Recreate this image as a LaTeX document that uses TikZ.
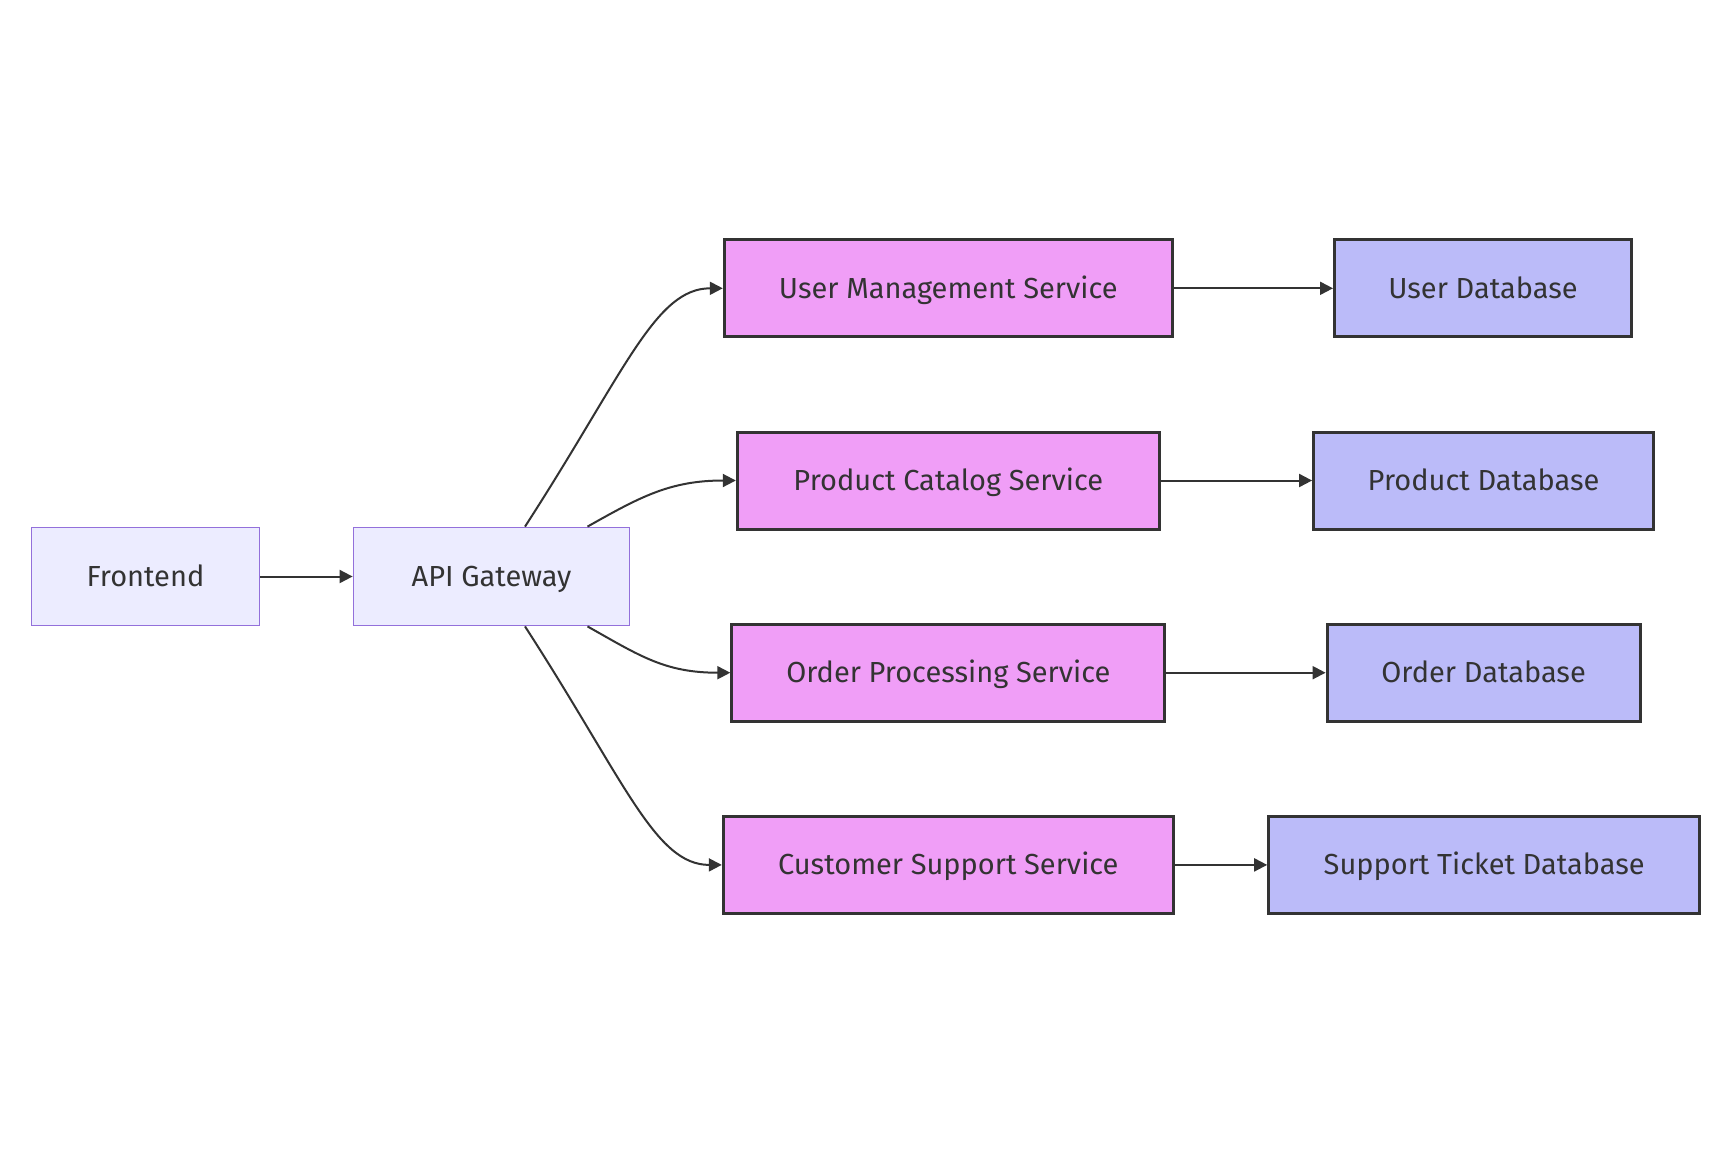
\documentclass[tikz,border=0pt]{standalone}
\usepackage{fontspec}
\setmainfont{Fira Sans}
\usetikzlibrary{arrows.meta}
\definecolor{txt}{HTML}{333333}
\definecolor{feFill}{HTML}{ECECFF}
\definecolor{feLine}{HTML}{9370DB}
\definecolor{svcFill}{HTML}{F09EF7}
\definecolor{dbFill}{HTML}{BBBBF9}
\tikzset{
  base/.style={rectangle, inner sep=0pt, text=txt, font=\fontsize{29}{32}\selectfont, minimum height=98, text height=20pt, text depth=0pt},
  plain/.style={base, fill=feFill, draw=feLine, line width=1.8pt},
  svc/.style={base, fill=svcFill, draw=txt, line width=3pt, minimum height=97},
  db/.style={base, fill=dbFill, draw=txt, line width=3pt, minimum height=97},
  conn/.style={draw=txt, line width=2pt, -{Triangle[length=13pt,width=13pt]}}
}
\begin{document}
\begin{tikzpicture}[x=1pt,y=-1pt]
\useasboundingbox[fill=white] (0,0) rectangle (1722,1160);
\node[plain, minimum width=228] (fe) at (145.5,576.5) {Frontend};
\node[plain, minimum width=276] (api) at (491.5,576.5) {API Gateway};
\node[svc, minimum width=448] (ums) at (948.3,288.3) {User Management Service};
\node[svc, minimum width=422] (pcs) at (948.3,480.5) {Product Catalog Service};
\node[svc, minimum width=433] (ops) at (948.3,672.7) {Order Processing Service};
\node[svc, minimum width=450] (css) at (948.3,864.9) {Customer Support Service};
\node[db, minimum width=297] (udb) at (1483,288.3) {User Database};
\node[db, minimum width=340] (pdb) at (1483.6,480.5) {Product Database};
\node[db, minimum width=313] (odb) at (1483.6,672.7) {Order Database};
\node[db, minimum width=431] (sdb) at (1484.2,864.9) {Support Ticket Database};
\coordinate (a1) at ([xshift=33.5]api.north);
\coordinate (a2) at ([xshift=96]api.north);
\coordinate (a3) at ([xshift=96]api.south);
\coordinate (a4) at ([xshift=33.5]api.south);
\draw[conn] (fe) -- (api);
\draw[conn] (a1) .. controls (625,372) and (655,288.3) .. (ums.west);
\draw[conn] (a2) .. controls (640,497) and (670,480.5) .. (pcs.west);
\draw[conn] (a3) .. controls (640,656) and (665,672.7) .. (ops.west);
\draw[conn] (a4) .. controls (625,781) and (655,864.9) .. (css.west);
\draw[conn] (ums) -- (udb);
\draw[conn] (pcs) -- (pdb);
\draw[conn] (ops) -- (odb);
\draw[conn] (css) -- (sdb);
\end{tikzpicture}
\end{document}
